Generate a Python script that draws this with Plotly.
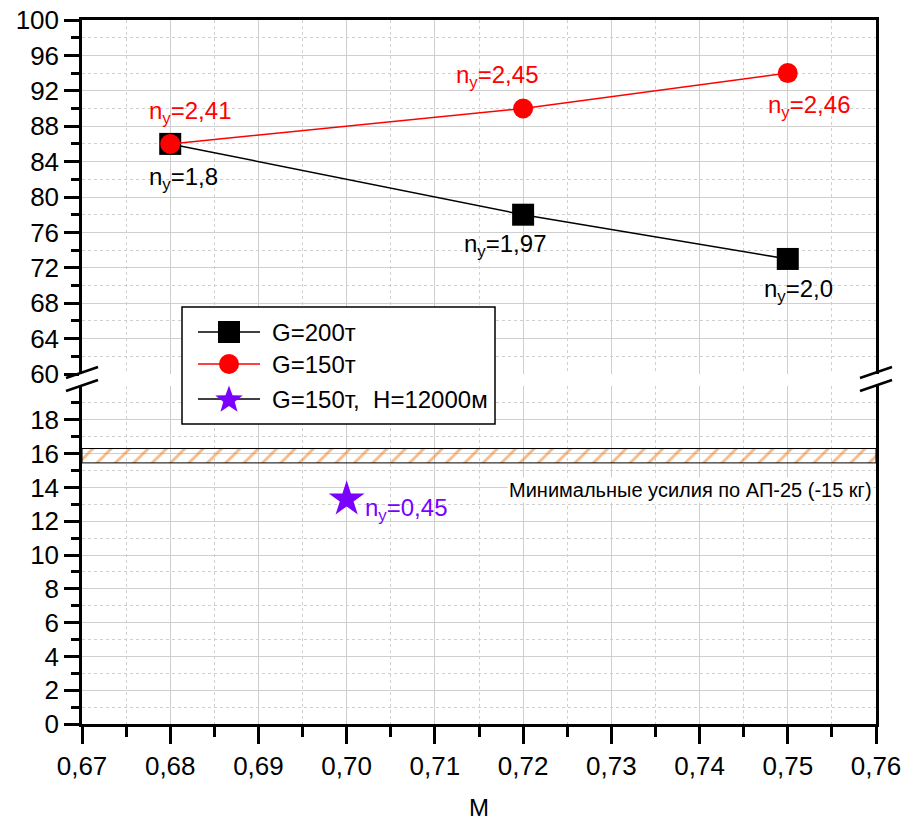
import math
import plotly.graph_objects as go

# ---- data ----
mach_200 = [0.68, 0.72, 0.75]
force_200 = [86, 78, 73]
ny_200 = ["1,8", "1,97", "2,0"]

mach_150 = [0.68, 0.72, 0.75]
force_150 = [86, 90, 94]
ny_150 = ["2,41", "2,45", "2,46"]

mach_h = [0.70]
force_h = [13.3]
ny_h = ["0,45"]

series_names = ["G=200т", "G=150т", "G=150т,  H=12000м"]

band_y = [15.45, 16.3]          # min force band (AP-25)
band_label = "Минимальные усилия по АП-25 (-15 кг)"

x_range = [0.67, 0.76]
x_ticks = [0.67, 0.68, 0.69, 0.70, 0.71, 0.72, 0.73, 0.74, 0.75, 0.76]
y_low_ticks = list(range(0, 19, 2))
y_low_minor = list(range(1, 20, 2))
y_up_ticks = list(range(60, 101, 4))
y_up_minor = list(range(62, 99, 4))

FONT = "Liberation Sans, Arial, sans-serif"
RED = "#ff0000"
PURPLE = "#7a00ff"
ORANGE = "#ee7410"
GRID = "#cfcfcf"

# geometry (window pixels; body margin is removed by post_script)
W, H = 907, 822
L, R, T, B = 82, 876, 20, 724
def px(x): return (x - L) / (R - L)
def py(y): return (B - y) / (B - T)

low_dom = [0, py(386)]
up_dom = [py(374), 1]

fig = go.Figure()

# hatched band
fig.add_trace(go.Scatter(
    x=[x_range[0], x_range[1], x_range[1], x_range[0], x_range[0]],
    y=[band_y[0], band_y[0], band_y[1], band_y[1], band_y[0]],
    mode="lines", fill="toself", fillcolor="rgba(0,0,0,0)",
    fillpattern=dict(shape="/", fgcolor=ORANGE, size=13, solidity=0.22),
    line=dict(color="black", width=1), showlegend=False, hoverinfo="skip",
    xaxis="x", yaxis="y"))

fig.add_trace(go.Scatter(x=mach_200, y=force_200, mode="lines+markers",
                         name=series_names[0], showlegend=False,
                         line=dict(color="black", width=1.5),
                         marker=dict(symbol="square", size=22, color="black"),
                         xaxis="x2", yaxis="y2"))
fig.add_trace(go.Scatter(x=mach_150, y=force_150, mode="lines+markers",
                         name=series_names[1], showlegend=False,
                         line=dict(color=RED, width=1.5),
                         marker=dict(symbol="circle", size=20, color=RED),
                         xaxis="x2", yaxis="y2"))
fig.add_trace(go.Scatter(x=mach_h, y=force_h, mode="markers",
                         name=series_names[2], showlegend=False,
                         marker=dict(symbol="star", size=27, color=PURPLE),
                         xaxis="x", yaxis="y"))

ann = []
shapes = []

# ---- legend drawn as layout shapes + annotations ----
box = (182, 307, 495, 424)
shapes.append(dict(type="rect", xref="paper", yref="paper", layer="above",
                   x0=px(box[0]), x1=px(box[2]), y0=py(box[3]), y1=py(box[1]),
                   fillcolor="white", line=dict(color="black", width=1.5)))
row_y = [332, 364, 399]
line_cols = ["black", RED, "black"]
for i, ry in enumerate(row_y):
    shapes.append(dict(type="line", xref="paper", yref="paper", layer="above",
                       x0=px(198), x1=px(260), y0=py(ry), y1=py(ry),
                       line=dict(color=line_cols[i], width=1.5)))
    ann.append(dict(x=px(270), y=py(ry), xref="paper", yref="paper",
                    text=series_names[i], showarrow=False, xanchor="left",
                    yanchor="middle", font=dict(family=FONT, size=24, color="black")))
cx = 229
shapes.append(dict(type="rect", xref="paper", yref="paper", layer="above",
                   x0=px(cx - 11), x1=px(cx + 11), y0=py(row_y[0] + 11), y1=py(row_y[0] - 11),
                   fillcolor="black", line=dict(width=0)))
shapes.append(dict(type="circle", xref="paper", yref="paper", layer="above",
                   x0=px(cx - 10), x1=px(cx + 10), y0=py(row_y[1] + 10), y1=py(row_y[1] - 10),
                   fillcolor=RED, line=dict(width=0)))
pts = []
for k in range(10):
    r = 14.5 if k % 2 == 0 else 6.0
    a = -math.pi / 2 + k * math.pi / 5
    pts.append((px(cx + r * math.cos(a)), py(row_y[2] + 1 + r * math.sin(a))))
path = "M " + " L ".join(f"{x:.5f},{y:.5f}" for x, y in pts) + " Z"
shapes.append(dict(type="path", xref="paper", yref="paper", layer="above", path=path,
                   fillcolor=PURPLE, line=dict(width=0)))

def lab(x, y, t, color, dx, dy, ax="x2", ayy="y2"):
    ann.append(dict(x=x, y=y, xref=ax, yref=ayy, text="n<sub>y</sub>=" + t,
                    showarrow=False, xshift=dx, yshift=dy,
                    font=dict(family=FONT, size=24, color=color)))

off_200 = [(13, -35), (-18, -31), (11, -32)]
off_150 = [(20, 31), (-26, 32), (21, -33)]
for i in range(3):
    lab(mach_200[i], force_200[i], ny_200[i], "black", *off_200[i])
    lab(mach_150[i], force_150[i], ny_150[i], RED, *off_150[i])
lab(mach_h[0], force_h[0], ny_h[0], PURPLE, 59, -10, "x", "y")

ann.append(dict(x=x_range[1], y=13.85, xref="x", yref="y", text=band_label,
                showarrow=False, xanchor="right", yanchor="middle", xshift=-2,
                bgcolor="white", font=dict(family=FONT, size=20, color="black")))

# axis break marks
for bx in (L, R):
    for (y1, y2) in ((378, 367), (391, 380)):
        shapes.append(dict(type="line", xref="paper", yref="paper",
                           x0=px(bx - 16), x1=px(bx + 16), y0=py(y1), y1=py(y2),
                           line=dict(color="black", width=2.5)))

axis_common = dict(showline=True, linecolor="black", linewidth=2.5,
                   gridcolor=GRID, gridwidth=1, zeroline=False, automargin=False,
                   ticklabeloverflow="allow",
                   tickfont=dict(family=FONT, size=26, color="black"),
                   tickcolor="black", tickwidth=2.5)

fig.update_layout(
    width=W, height=H,
    margin=dict(l=L, r=W - R, t=T, b=H - B),
    paper_bgcolor="white", plot_bgcolor="white",
    separators=", ", showlegend=False,
    font=dict(family=FONT, color="black"),
    xaxis=dict(range=x_range, domain=[0, 1], anchor="y",
               tickmode="array", tickvals=x_ticks,
               tickformat=".2f", ticks="outside", ticklen=17,
               minor=dict(dtick=0.005, tick0=0.67, ticks="outside", ticklen=10,
                          tickwidth=2.5, tickcolor="black", showgrid=True,
                          gridcolor=GRID, griddash="dot"),
               title=dict(text="M", font=dict(family=FONT, size=24), standoff=20),
               **axis_common),
    xaxis2=dict(range=x_range, domain=[0, 1], anchor="y2", side="top",
                tickmode="array", tickvals=x_ticks, showticklabels=False, ticks="",
                minor=dict(dtick=0.005, tick0=0.67, showgrid=True,
                           gridcolor=GRID, griddash="dot"),
                **axis_common),
    yaxis=dict(range=[0, 20], domain=low_dom, anchor="x", mirror=True,
               tickmode="array", tickvals=y_low_ticks, ticks="outside", ticklen=15,
               minor=dict(tickmode="array", tickvals=y_low_minor, ticks="outside",
                          ticklen=8, tickwidth=2.5, tickcolor="black",
                          showgrid=True, gridcolor=GRID, griddash="dot"),
               **axis_common),
    yaxis2=dict(range=[60, 100], domain=up_dom, anchor="x2", mirror=True,
                tickmode="array", tickvals=y_up_ticks, ticks="outside", ticklen=15,
                minor=dict(tickmode="array", tickvals=y_up_minor, ticks="outside",
                           ticklen=8, tickwidth=2.5, tickcolor="black",
                           showgrid=True, gridcolor=GRID, griddash="dot"),
                **axis_common),
    annotations=ann, shapes=shapes,
)

fig.write_html("out.html",
               config={"displayModeBar": False},
               post_script="document.body.style.margin='0';"
                           "document.body.style.overflow='hidden';")
